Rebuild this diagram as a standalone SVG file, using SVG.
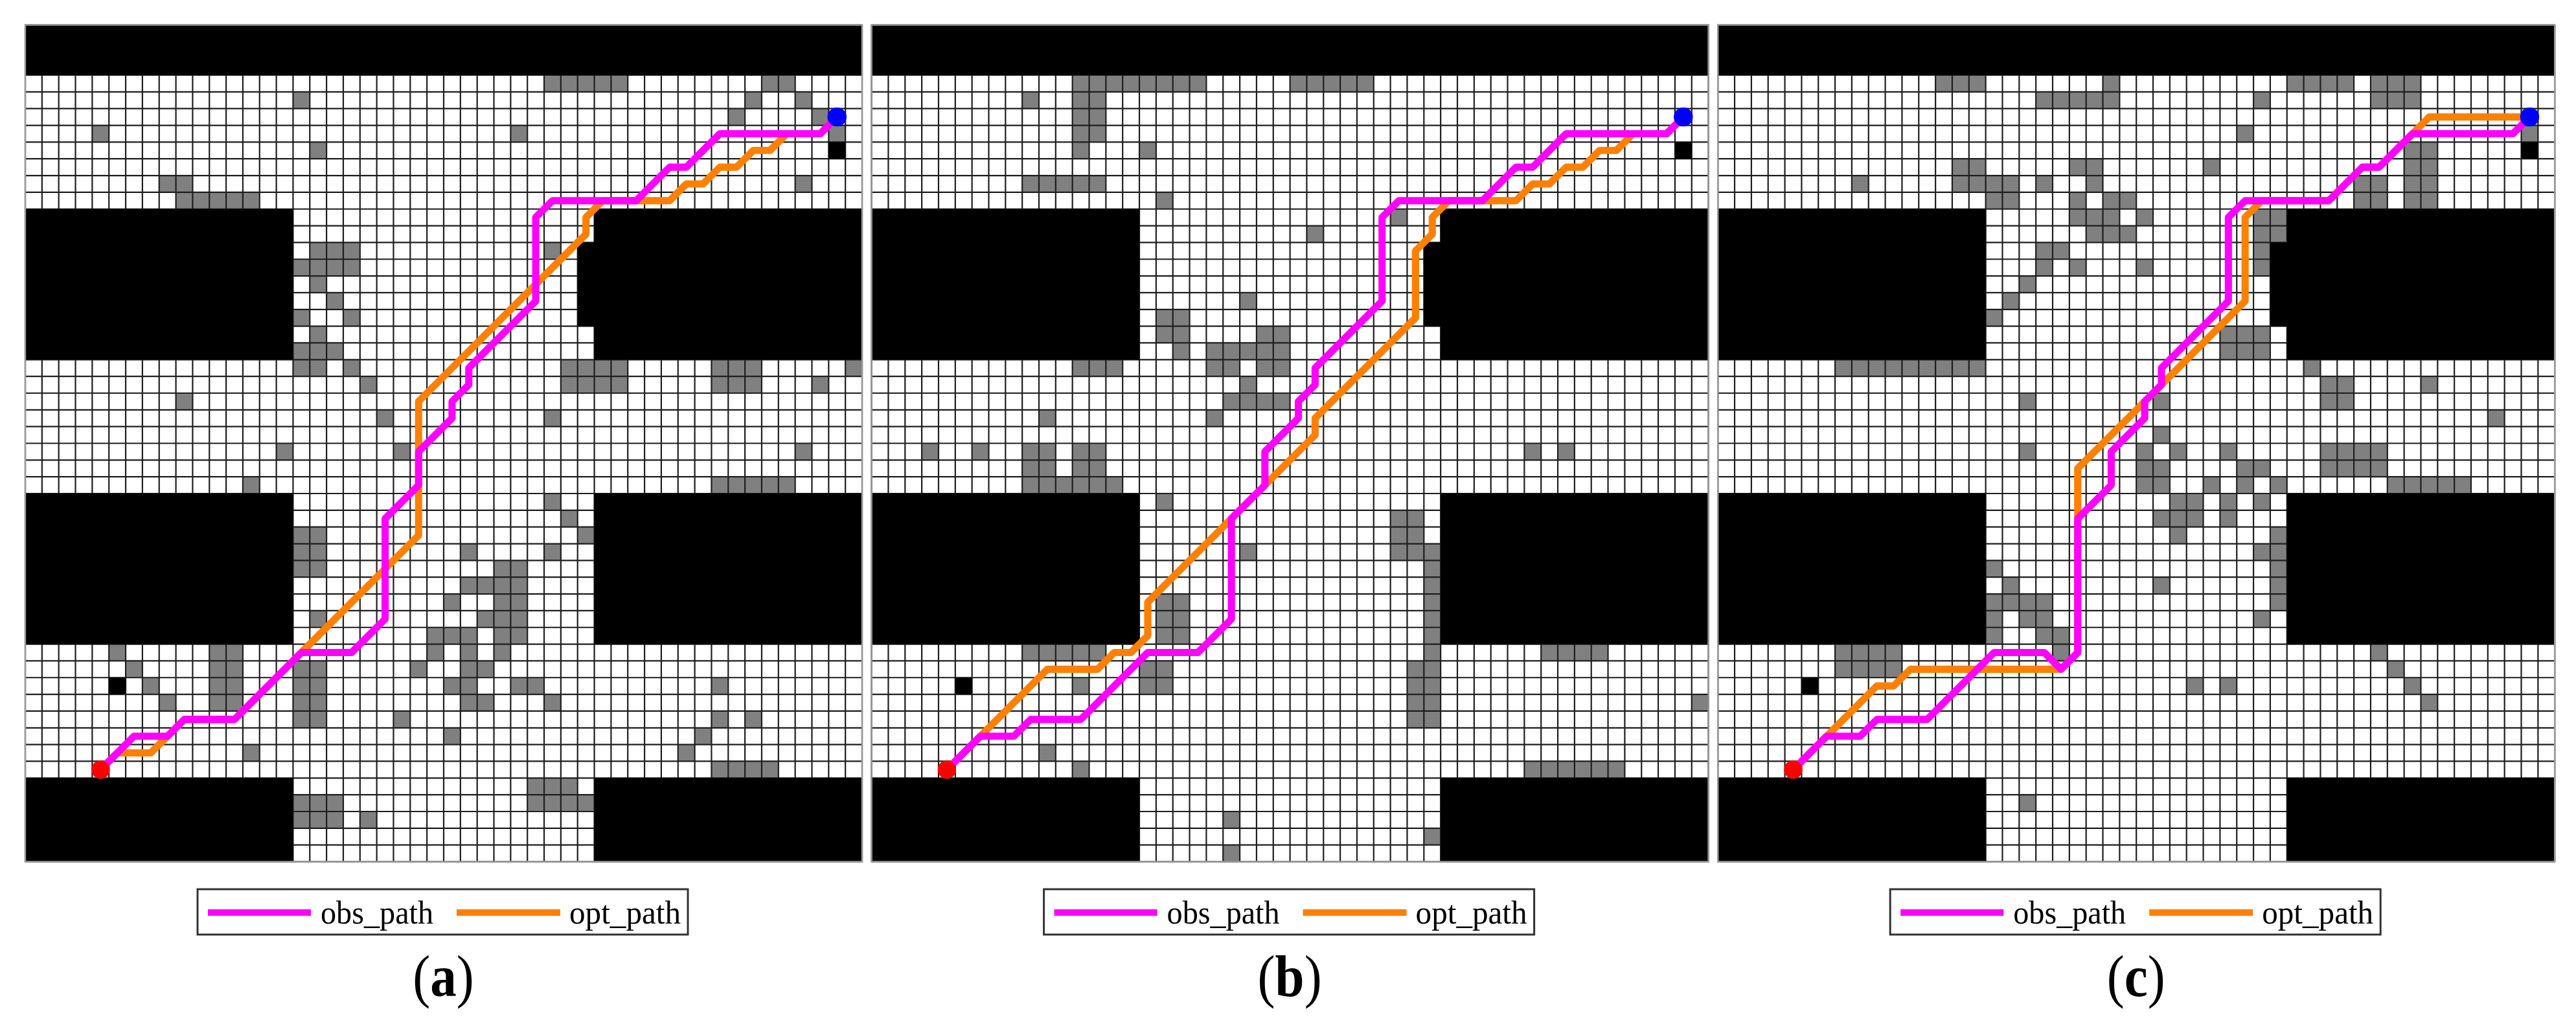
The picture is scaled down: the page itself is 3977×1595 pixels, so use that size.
<svg xmlns="http://www.w3.org/2000/svg" xmlns:xlink="http://www.w3.org/1999/xlink" width="3977" height="1595" viewBox="0 0 3977 1595">
<style>
.bg{fill:#fff}
.gray{fill:#808080}
.gridline{fill:none;stroke:#1e1e1e;stroke-width:0.085}
.block{fill:#000}
.obs{fill:none;stroke:#ff00ff;stroke-width:0.43;stroke-linejoin:round;stroke-linecap:round}
.opt{fill:none;stroke:#ff8000;stroke-width:0.43;stroke-linejoin:round;stroke-linecap:round}
.goal{fill:#0000ff}
.start{fill:#ff0000}
.frame{fill:none;stroke:#9a9a9a;stroke-width:2.5}
.legbox{fill:#fff;stroke:#333;stroke-width:3}
.legobs{stroke:#ff00ff;stroke-width:10}
.legopt{stroke:#ff8000;stroke-width:10}
.legtext{font-family:"Liberation Serif","Times New Roman",serif;font-size:50px;fill:#000}
.label{font-family:"Liberation Serif","Times New Roman",serif;font-size:90px;fill:#000;text-anchor:middle}
</style>
<defs>
<path id="grid" class="gridline" d="M0 0V50M1 0V50M2 0V50M3 0V50M4 0V50M5 0V50M6 0V50M7 0V50M8 0V50M9 0V50M10 0V50M11 0V50M12 0V50M13 0V50M14 0V50M15 0V50M16 0V50M17 0V50M18 0V50M19 0V50M20 0V50M21 0V50M22 0V50M23 0V50M24 0V50M25 0V50M26 0V50M27 0V50M28 0V50M29 0V50M30 0V50M31 0V50M32 0V50M33 0V50M34 0V50M35 0V50M36 0V50M37 0V50M38 0V50M39 0V50M40 0V50M41 0V50M42 0V50M43 0V50M44 0V50M45 0V50M46 0V50M47 0V50M48 0V50M49 0V50M50 0V50M0 0H50M0 1H50M0 2H50M0 3H50M0 4H50M0 5H50M0 6H50M0 7H50M0 8H50M0 9H50M0 10H50M0 11H50M0 12H50M0 13H50M0 14H50M0 15H50M0 16H50M0 17H50M0 18H50M0 19H50M0 20H50M0 21H50M0 22H50M0 23H50M0 24H50M0 25H50M0 26H50M0 27H50M0 28H50M0 29H50M0 30H50M0 31H50M0 32H50M0 33H50M0 34H50M0 35H50M0 36H50M0 37H50M0 38H50M0 39H50M0 40H50M0 41H50M0 42H50M0 43H50M0 44H50M0 45H50M0 46H50M0 47H50M0 48H50M0 49H50M0 50H50"/>
<path id="blocks" class="block" d="M0 0h50v3H0z M0 11h16v9H0z M34 11h16v9H34z M33 13h1v5h-1z M0 28h16v9H0z M34 28h16v9H34z M0 45h16v5H0z M34 45h16v5H34z M48 7h1v1h-1z M5 39h1v1h-1z"/>
</defs>
<rect width="3977" height="1595" fill="#fff"/>

<!-- Panel (a) -->
<g id="panel-a" transform="translate(39,38.5)">
<g id="map-a" transform="scale(25.84)">
<rect class="bg" width="50" height="50"/>
<path class="gray" d="M31 3h5v1h-5zM44 3h2v1h-2zM16 4h1v1h-1zM43 4h1v1h-1zM46 4h1v1h-1zM42 5h1v1h-1zM47 5h1v1h-1zM4 6h1v1h-1zM29 6h1v1h-1zM48 6h1v1h-1zM17 7h1v1h-1zM8 9h2v1h-2zM46 9h1v1h-1zM9 10h5v1h-5zM17 13h3v1h-3zM31 13h1v1h-1zM16 14h4v1h-4zM17 15h1v1h-1zM18 16h1v1h-1zM16 17h1v1h-1zM19 17h1v1h-1zM17 18h1v1h-1zM16 19h3v1h-3zM16 20h2v1h-2zM19 20h1v1h-1zM32 20h4v2h-4zM41 20h3v2h-3zM49 20h1v1h-1zM20 21h1v1h-1zM47 21h1v1h-1zM9 22h1v1h-1zM21 23h1v1h-1zM31 23h1v1h-1zM15 25h1v1h-1zM22 25h1v1h-1zM46 25h1v1h-1zM13 27h1v1h-1zM41 27h5v1h-5zM31 28h1v1h-1zM32 29h1v1h-1zM16 30h2v3h-2zM33 30h1v1h-1zM26 31h1v1h-1zM31 31h1v1h-1zM28 32h2v1h-2zM26 33h4v1h-4zM25 34h1v1h-1zM28 34h2v1h-2zM17 35h1v1h-1zM27 35h3v1h-3zM24 36h3v1h-3zM28 36h2v1h-2zM5 37h1v1h-1zM11 37h2v4h-2zM24 37h1v1h-1zM26 37h1v1h-1zM28 37h1v1h-1zM6 38h1v1h-1zM16 38h2v4h-2zM23 38h1v1h-1zM26 38h2v1h-2zM7 39h1v1h-1zM25 39h2v1h-2zM29 39h2v1h-2zM41 39h1v1h-1zM8 40h1v1h-1zM26 40h2v1h-2zM31 40h1v1h-1zM22 41h1v1h-1zM41 41h1v1h-1zM43 41h1v1h-1zM25 42h1v1h-1zM40 42h1v1h-1zM13 43h1v1h-1zM39 43h1v1h-1zM41 44h4v1h-4zM30 45h3v1h-3zM16 46h3v2h-3zM30 46h4v1h-4zM20 47h1v1h-1z"/>
<use xlink:href="#grid"/>
<use xlink:href="#blocks"/>
</g>
<g id="paths-a" transform="scale(25.84)">
<polyline class="opt" points="48.5,5.5 47.5,6.5 45.5,6.5 44.5,7.5 43.5,7.5 42.5,8.5 41.5,8.5 40.5,9.5 39.5,9.5 38.5,10.5 34.5,10.5 33.5,11.5 33.5,12.5 23.5,22.5 23.5,30.5 16.5,37.5 12.5,41.5 9.5,41.5 8.5,42.5 7.5,43.5 5.5,43.5 4.5,44.5"/>
<polyline class="obs" points="48.5,5.5 47.5,6.5 41.5,6.5 40.5,7.5 39.5,8.5 38.5,8.5 36.5,10.5 31.5,10.5 30.5,11.5 30.5,16.5 26.5,20.5 26.5,21.5 25.5,22.5 25.5,23.5 23.5,25.5 23.5,27.5 21.5,29.5 21.5,35.5 19.5,37.5 16.5,37.5 12.5,41.5 9.5,41.5 8.5,42.5 6.5,42.5 4.5,44.5"/>
<circle class="goal" cx="48.5" cy="5.5" r="0.57"/>
<circle class="start" cx="4.5" cy="44.5" r="0.55"/>
</g>
<rect class="frame" width="1292" height="1292"/>
</g>
<g id="legend-a" transform="translate(39,0)">
<rect class="legbox" x="266" y="1373" width="757" height="70"/>
<line class="legobs" x1="282" y1="1409" x2="441" y2="1409"/>
<text class="legtext" x="456" y="1426" textLength="174" lengthAdjust="spacingAndGlyphs">obs_path</text>
<line class="legopt" x1="666" y1="1409" x2="826" y2="1409"/>
<text class="legtext" x="840" y="1426" textLength="172" lengthAdjust="spacingAndGlyphs">opt_path</text>
<text class="label" transform="translate(645.5,1538) scale(0.9,1)">(<tspan font-weight="bold">a</tspan>)</text>
</g>

<!-- Panel (b) -->
<g id="panel-b" transform="translate(1345.6,38.5)">
<g id="map-b" transform="scale(25.84)">
<rect class="bg" width="50" height="50"/>
<path class="gray" d="M12 3h8v1h-8zM25 3h5v1h-5zM9 4h1v1h-1zM12 4h2v3h-2zM12 7h1v1h-1zM16 7h1v1h-1zM9 9h5v1h-5zM17 10h1v1h-1zM31 11h1v1h-1zM26 12h1v1h-1zM22 16h1v1h-1zM17 17h2v2h-2zM23 18h2v1h-2zM18 19h1v1h-1zM20 19h5v1h-5zM12 20h3v1h-3zM20 20h2v1h-2zM23 20h2v1h-2zM22 21h1v1h-1zM21 22h4v1h-4zM10 23h1v1h-1zM20 23h1v1h-1zM3 25h1v1h-1zM6 25h1v1h-1zM9 25h2v2h-2zM12 25h2v2h-2zM39 25h1v1h-1zM41 25h1v1h-1zM9 27h6v1h-6zM17 28h1v1h-1zM31 29h2v3h-2zM22 31h1v1h-1zM33 31h1v7h-1zM17 34h2v3h-2zM9 37h5v1h-5zM40 37h4v1h-4zM16 38h2v2h-2zM32 38h2v4h-2zM12 39h1v1h-1zM49 40h1v1h-1zM10 43h1v1h-1zM12 44h1v1h-1zM39 44h6v1h-6zM21 47h1v1h-1zM33 48h1v1h-1zM21 49h1v1h-1z"/>
<use xlink:href="#grid"/>
<use xlink:href="#blocks"/>
</g>
<g id="paths-b" transform="scale(25.84)">
<polyline class="opt" points="48.5,5.5 47.5,6.5 45.5,6.5 44.5,7.5 43.5,7.5 42.5,8.5 41.5,8.5 40.5,9.5 39.5,9.5 38.5,10.5 34.5,10.5 33.5,11.5 33.5,12.5 32.5,13.5 32.5,17.5 26.5,23.5 26.5,24.5 25.5,25.5 16.5,34.5 16.5,36.5 15.5,37.5 14.5,37.5 13.5,38.5 10.5,38.5 6.5,42.5 5.5,43.5 4.5,44.5"/>
<polyline class="obs" points="48.5,5.5 47.5,6.5 41.5,6.5 40.5,7.5 39.5,8.5 38.5,8.5 36.5,10.5 31.5,10.5 30.5,11.5 30.5,16.5 26.5,20.5 26.5,21.5 25.5,22.5 25.5,23.5 23.5,25.5 23.5,27.5 21.5,29.5 21.5,35.5 19.5,37.5 16.5,37.5 12.5,41.5 9.5,41.5 8.5,42.5 6.5,42.5 4.5,44.5"/>
<circle class="goal" cx="48.5" cy="5.5" r="0.57"/>
<circle class="start" cx="4.5" cy="44.5" r="0.55"/>
</g>
<rect class="frame" width="1292" height="1292"/>
</g>
<g id="legend-b" transform="translate(1345.6,0)">
<rect class="legbox" x="266" y="1373" width="757" height="70"/>
<line class="legobs" x1="282" y1="1409" x2="441" y2="1409"/>
<text class="legtext" x="456" y="1426" textLength="174" lengthAdjust="spacingAndGlyphs">obs_path</text>
<line class="legopt" x1="666" y1="1409" x2="826" y2="1409"/>
<text class="legtext" x="840" y="1426" textLength="172" lengthAdjust="spacingAndGlyphs">opt_path</text>
<text class="label" transform="translate(645.5,1538) scale(0.9,1)">(<tspan font-weight="bold">b</tspan>)</text>
</g>

<!-- Panel (c) -->
<g id="panel-c" transform="translate(2652.2,38.5)">
<g id="map-c" transform="scale(25.84)">
<rect class="bg" width="50" height="50"/>
<path class="gray" d="M13 3h3v1h-3zM23 3h1v1h-1zM34 3h4v1h-4zM39 3h3v2h-3zM19 4h5v1h-5zM32 4h1v1h-1zM31 6h1v1h-1zM48 6h1v1h-1zM41 7h2v4h-2zM14 8h2v1h-2zM21 8h2v1h-2zM29 8h1v1h-1zM8 9h1v1h-1zM14 9h4v1h-4zM19 9h1v1h-1zM22 9h1v1h-1zM38 9h2v2h-2zM16 10h2v1h-2zM21 10h1v1h-1zM23 10h2v1h-2zM21 11h3v1h-3zM25 11h1v1h-1zM32 11h2v2h-2zM22 12h3v1h-3zM19 13h2v1h-2zM32 13h1v2h-1zM19 14h1v1h-1zM21 14h1v1h-1zM25 14h1v1h-1zM18 15h1v1h-1zM17 16h1v1h-1zM16 17h1v1h-1zM30 18h3v2h-3zM7 20h9v1h-9zM35 20h1v1h-1zM36 21h2v2h-2zM42 21h1v1h-1zM18 22h1v1h-1zM26 22h1v1h-1zM46 23h1v1h-1zM26 24h1v1h-1zM18 25h1v1h-1zM25 25h1v1h-1zM27 25h1v1h-1zM30 25h1v1h-1zM36 25h4v2h-4zM25 26h2v2h-2zM31 26h2v1h-2zM29 27h1v1h-1zM31 27h1v1h-1zM33 27h1v1h-1zM40 27h5v1h-5zM27 28h2v1h-2zM30 28h1v2h-1zM32 28h1v1h-1zM26 29h3v1h-3zM27 30h1v1h-1zM33 30h1v5h-1zM32 31h1v1h-1zM16 32h1v1h-1zM17 33h1v1h-1zM26 33h1v1h-1zM16 34h4v1h-4zM16 35h1v2h-1zM18 35h2v1h-2zM32 35h1v1h-1zM19 36h2v1h-2zM7 37h4v2h-4zM20 37h1v1h-1zM39 37h1v1h-1zM40 38h1v1h-1zM28 39h1v1h-1zM30 39h1v1h-1zM41 39h1v1h-1zM42 40h1v1h-1zM18 46h1v1h-1z"/>
<use xlink:href="#grid"/>
<use xlink:href="#blocks"/>
</g>
<g id="paths-c" transform="scale(25.84)">
<polyline class="opt" points="48.5,5.5 42.5,5.5 41.5,6.5 40.5,7.5 39.5,8.5 38.5,8.5 36.5,10.5 32.5,10.5 31.5,11.5 31.5,16.5 21.5,26.5 21.5,37.5 20.5,38.5 11.5,38.5 10.5,39.5 9.5,39.5 6.5,42.5 5.5,43.5 4.5,44.5"/>
<polyline class="obs" points="48.5,5.5 47.5,6.5 41.5,6.5 40.5,7.5 39.5,8.5 38.5,8.5 36.5,10.5 31.5,10.5 30.5,11.5 30.5,16.5 26.5,20.5 26.5,21.5 25.5,22.5 25.5,23.5 23.5,25.5 23.5,27.5 21.5,29.5 21.5,37.5 20.5,38.5 19.5,37.5 16.5,37.5 12.5,41.5 9.5,41.5 8.5,42.5 6.5,42.5 4.5,44.5"/>
<circle class="goal" cx="48.5" cy="5.5" r="0.57"/>
<circle class="start" cx="4.5" cy="44.5" r="0.55"/>
</g>
<rect class="frame" width="1292" height="1292"/>
</g>
<g id="legend-c" transform="translate(2652.2,0)">
<rect class="legbox" x="266" y="1373" width="757" height="70"/>
<line class="legobs" x1="282" y1="1409" x2="441" y2="1409"/>
<text class="legtext" x="456" y="1426" textLength="174" lengthAdjust="spacingAndGlyphs">obs_path</text>
<line class="legopt" x1="666" y1="1409" x2="826" y2="1409"/>
<text class="legtext" x="840" y="1426" textLength="172" lengthAdjust="spacingAndGlyphs">opt_path</text>
<text class="label" transform="translate(645.5,1538) scale(0.9,1)">(<tspan font-weight="bold">c</tspan>)</text>
</g>
</svg>
